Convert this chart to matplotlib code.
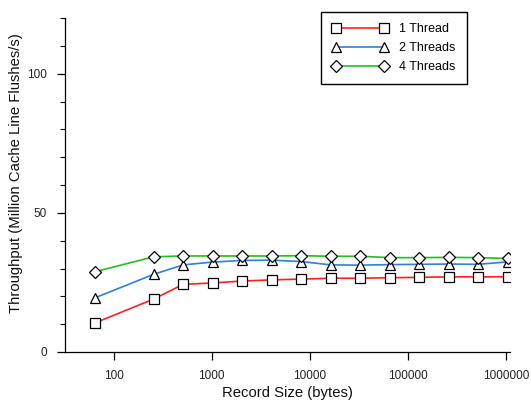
import matplotlib
matplotlib.use("Agg")
import matplotlib.pyplot as plt
from matplotlib.ticker import FixedLocator, MultipleLocator, NullFormatter

plt.rcParams['font.family'] = ['Liberation Sans', 'DejaVu Sans']

record_sizes = [64, 256, 512, 1024, 2048, 4096, 8192, 16384, 32768, 65536,
                131072, 262144, 524288, 1048576]
thread1 = [10.4, 19.0, 24.3, 24.8, 25.5, 25.9, 26.2, 26.5, 26.5, 26.7, 26.8, 27.0, 27.0, 27.0]
thread2 = [19.4, 27.9, 31.3, 32.3, 32.9, 33.0, 32.5, 31.3, 31.2, 31.4, 31.5, 31.6, 31.5, 32.4]
thread4 = [28.8, 34.2, 34.5, 34.5, 34.5, 34.5, 34.6, 34.4, 34.4, 33.9, 33.9, 34.0, 33.9, 33.6]
labels = ["1 Thread", "2 Threads", "4 Threads"]
xticks = [100, 1000, 10000, 100000, 1000000]
xticklabels = ["100", "1000", "10000", "100000", "1000000"]

fig = plt.figure(figsize=(5.31, 4.0), dpi=100)
ax = fig.add_axes([0.1224, 0.12, 0.838, 0.835])

styles = [("#ff2020", "s", 6.6), ("#2f80d6", "^", 7.6), ("#20c020", "D", 6.0)]
for ys, lab, (c, m, ms) in zip([thread1, thread2, thread4], labels, styles):
    ax.plot(record_sizes, ys, color=c, lw=1.2, marker=m, ms=ms,
            mfc="white", mec="black", mew=0.9, label=lab)

ax.set_xscale("log")
ax.set_xlim(32, 1100000)
ax.set_ylim(0, 120)
ax.xaxis.set_major_locator(FixedLocator(xticks))
ax.set_xticklabels(xticklabels)
ax.xaxis.set_minor_locator(FixedLocator([]))
ax.yaxis.set_major_locator(FixedLocator([0, 50, 100]))
ax.yaxis.set_minor_locator(MultipleLocator(10))
ax.yaxis.set_minor_formatter(NullFormatter())

for s in ["top", "right"]:
    ax.spines[s].set_visible(False)
for s in ["left", "bottom"]:
    ax.spines[s].set_linewidth(0.9)
ax.tick_params(axis="both", which="major", direction="out", length=6, width=0.9,
               labelsize=8.5, pad=7, labelcolor="#222222")
ax.tick_params(axis="y", which="minor", direction="out", length=3.5, width=0.8)

ax.set_xlabel("Record Size (bytes)", fontsize=10.7, labelpad=3, color="#111111")
ax.set_ylabel("Throughput (Million Cache Line Flushes/s)", fontsize=10.7,
              labelpad=5, color="#111111")
ax.yaxis.set_label_coords(-0.094, 0.537)

leg = ax.legend(loc="upper right", bbox_to_anchor=(467 / 531, 1 - 12 / 400),
                bbox_transform=fig.transFigure, borderaxespad=0, numpoints=2,
                fontsize=9, frameon=True, fancybox=False, edgecolor="black",
                framealpha=1, handlelength=4.5, handletextpad=0.9,
                borderpad=0.9, labelspacing=0.55)
leg.get_frame().set_linewidth(1.0)

fig.savefig("out.png", dpi=100)
